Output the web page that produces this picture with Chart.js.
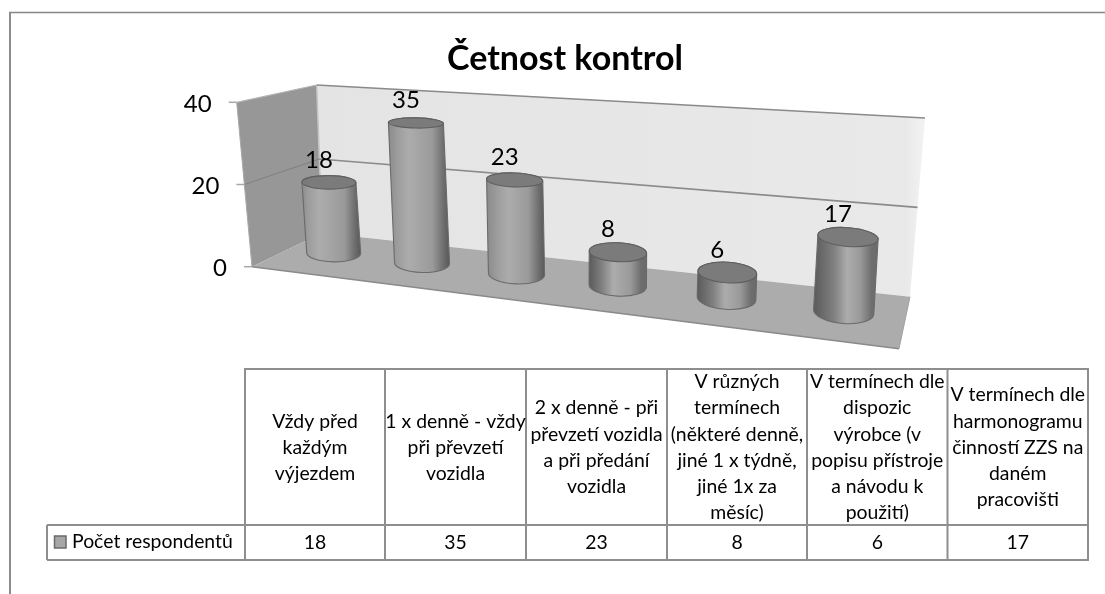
<!DOCTYPE html>
<html lang="cs">
<head>
<meta charset="utf-8">
<title>Četnost kontrol</title>
<style>html,body{margin:0;padding:0;background:#fff}canvas{display:block}</style>
<script src="https://cdn.jsdelivr.net/npm/chart.js@4"></script>
</head>
<body>
<canvas id="c" width="1105" height="594"></canvas>
<script>
const chartTitle = 'Četnost kontrol';
const seriesName = 'Počet respondentů';
const categories = [
  ['Vždy před', 'každým', 'výjezdem'],
  ['1 x denně - vždy', 'při převzetí', 'vozidla'],
  ['2 x denně - při', 'převzetí vozidla', 'a při předání', 'vozidla'],
  ['V různých', 'termínech', '(některé denně,', 'jiné 1 x týdně,', 'jiné 1x za', 'měsíc)'],
  ['V termínech dle', 'dispozic', 'výrobce (v', 'popisu přístroje', 'a návodu k', 'použití)'],
  ['V termínech dle', 'harmonogramu', 'činností ZZS na', 'daném', 'pracovišti']
];
const respondents = [18, 35, 23, 8, 6, 17];
const axisMax = 40;
const axisStep = 20;

const FONT = 'Lato, Carlito, Calibri, sans-serif';
const EDGE = '#8a8a8a';

// Perspective of the picture: where the first and last category stand at value 0 and at axisMax.
const plane = {a:[333.7,253], b:[323.1,96], c:[843.7,311.7], d:[853.8,136.1], r:0.838};
// Walls as screen quads.
const wall = {
  frontBottom:[252,266.7], frontTop:[236.7,102.3],
  backBottom:[322,233], backTop:[316.7,85],
  rightBottom:[910,296.7], rightTop:[925,118],
  floorFront:[899,348.7]
};
const table = {
  xs:[245,385,526,667,807,947.5,1088], legendX:47,
  top:369, mid:525, bottom:560
};

function lerp(p,q,s){return [p[0]+(q[0]-p[0])*s, p[1]+(q[1]-p[1])*s];}
function poly(ctx,pts,fill){ctx.beginPath();pts.forEach((p,i)=>i?ctx.lineTo(p[0],p[1]):ctx.moveTo(p[0],p[1]));ctx.closePath();ctx.fillStyle=fill;ctx.fill();}
function seg(ctx,p,q,color,w){ctx.beginPath();ctx.moveTo(p[0],p[1]);ctx.lineTo(q[0],q[1]);ctx.strokeStyle=color;ctx.lineWidth=w;ctx.stroke();}

function projector(chart){
  const x=chart.scales.x, y=chart.scales.y;
  const x0=x.getPixelForValue(0), x1=x.getPixelForValue(categories.length-1);
  const y0=y.getPixelForValue(0), y1=y.getPixelForValue(axisMax);
  return (px,py)=>{
    const t=(px-x0)/(x1-x0), s=(y0-py)/(y0-y1);
    const l=lerp(plane.a,plane.b,s), m=lerp(plane.c,plane.d,s);
    const w0=1-t, w1=t*plane.r, n=w0+w1;
    return [(w0*l[0]+w1*m[0])/n,(w0*l[1]+w1*m[1])/n];
  };
}

const scene = {
  id:'scene',
  beforeDatasetsDraw(chart){
    const ctx=chart.ctx, yS=chart.scales.y;
    ctx.save();
    const backGrad=ctx.createLinearGradient(wall.backBottom[0],0,wall.rightBottom[0]+14,0);
    backGrad.addColorStop(0,'#e4e4e4');backGrad.addColorStop(0.97,'#e9e9e9');backGrad.addColorStop(1,'#f2f2f2');
    poly(ctx,[wall.backTop,wall.rightTop,wall.rightBottom,wall.backBottom],backGrad);
    poly(ctx,[wall.frontTop,wall.backTop,wall.backBottom,wall.frontBottom],'#979797');
    seg(ctx,wall.backTop,[wall.backBottom[0],wall.backBottom[1]],'#c4c4c4',1.5);
    poly(ctx,[wall.frontBottom,wall.backBottom,wall.rightBottom,wall.floorFront],'#acacac');

    yS.ticks.forEach(tk=>{
      const s=tk.value/axisMax;
      const f=lerp(wall.frontBottom,wall.frontTop,s), b=lerp(wall.backBottom,wall.backTop,s), r=lerp(wall.rightBottom,wall.rightTop,s);
      if(s>0){
        seg(ctx,f,b,s===1?'#b4b4b4':'#828282',1.2);
        seg(ctx,b,r,EDGE,1.6);
      }
      seg(ctx,[f[0]-8,f[1]],f,'#a8a8a8',1.5);
      ctx.fillStyle='#000';ctx.font='24px '+FONT;ctx.textAlign='right';ctx.textBaseline='middle';
      ctx.fillText(String(tk.value),f[0]-25,f[1]+1.5);
    });
    seg(ctx,wall.frontBottom,wall.floorFront,EDGE,1.6);
    seg(ctx,wall.floorFront,wall.rightBottom,'#a0a0a0',1);
    seg(ctx,wall.frontBottom,wall.frontTop,'#a8a8a8',1);
    ctx.restore();
  },
  beforeDatasetDraw(chart,args){
    const ctx=chart.ctx, meta=args.meta, proj=projector(chart), yS=chart.scales.y;
    const yBase=yS.getPixelForValue(0);
    const unit=Math.abs(yS.getPixelForValue(1)-yBase);
    ctx.save();
    meta.data.forEach((bar,i)=>{
      const top=proj(bar.x,bar.y), base=proj(bar.x,yBase);
      const up=proj(bar.x,bar.y-unit);
      const localTop=Math.hypot(up[0]-top[0],up[1]-top[1]);
      const rx=(bar.width/2)*(localTop/unit);
      const f=(base[0]-plane.a[0])/(plane.c[0]-plane.a[0]);
      const ryTop=rx*(0.05+0.0011*top[1]), ryBase=rx*(0.05+0.0011*base[1]);
      const rot=0.01+0.07*f;
      const path=()=>{
        ctx.beginPath();
        ctx.ellipse(base[0],base[1],rx,ryBase,rot,0,Math.PI,false);
        ctx.ellipse(top[0],top[1],rx,ryTop,rot,Math.PI,2*Math.PI,false);
        ctx.closePath();
      };
      const lo=Math.min(top[0],base[0])-rx, hi=Math.max(top[0],base[0])+rx;
      const g=ctx.createLinearGradient(lo,0,hi,0);
      const peak=0.30+0.22*f;
      g.addColorStop(0,f<0.5?'#8a8a8a':'#5a5a5a');
      g.addColorStop(Math.max(peak-0.2,0.03),f<0.5?'#9c9c9c':'#808080');
      g.addColorStop(peak,'#acacac');
      g.addColorStop(0.72,'#9a9a9a');
      g.addColorStop(0.9,'#6e6e6e');
      g.addColorStop(1,f<0.5?'#585858':'#6a6a6a');
      path();ctx.fillStyle=g;ctx.fill();
      ctx.strokeStyle='#6a6a6a';ctx.lineWidth=1.1;ctx.stroke();
      ctx.beginPath();ctx.ellipse(top[0],top[1],rx,ryTop,rot,0,2*Math.PI);
      ctx.fillStyle='#7b7b7b';ctx.fill();
      ctx.strokeStyle='#5f5f5f';ctx.lineWidth=1.1;ctx.stroke();
      ctx.fillStyle='#000';ctx.font='24px '+FONT;ctx.textAlign='center';ctx.textBaseline='middle';
      ctx.fillText(String(respondents[i]),top[0]-10,top[1]-22.5);
    });
    ctx.restore();
    return false;
  },
  afterDraw(chart){
    const ctx=chart.ctx, T=table;
    ctx.save();
    seg(ctx,[9,12.5],[1105,12.5],'#868686',1.5);
    seg(ctx,[10,12],[10,594],'#8c8c8c',2);
    const c='#8e8e8e';
    seg(ctx,[T.xs[0],T.top],[T.xs[T.xs.length-1],T.top],c,2);
    seg(ctx,[T.legendX,T.mid],[T.xs[T.xs.length-1],T.mid],c,2);
    seg(ctx,[T.legendX,T.bottom],[T.xs[T.xs.length-1],T.bottom],c,2);
    seg(ctx,[T.legendX,T.mid],[T.legendX,T.bottom],c,2);
    T.xs.forEach(x=>seg(ctx,[x,T.top-1],[x,T.bottom+1],c,2));
    ctx.fillStyle='#000';ctx.textAlign='center';ctx.textBaseline='middle';
    const font='19.4px '+FONT; ctx.font=font;
    categories.forEach((lines,i)=>{
      const cx=(T.xs[i]+T.xs[i+1])/2, cy=(T.top+T.mid)/2+0.5, lh=26.2;
      lines.forEach((ln,k)=>ctx.fillText(ln,cx,cy+(k-(lines.length-1)/2)*lh));
      ctx.fillText(String(respondents[i]),cx,(T.mid+T.bottom)/2+0.5);
    });
    ctx.fillStyle='#a6a6a6';ctx.fillRect(54.5,536,11.5,12);
    ctx.strokeStyle='#6a6a6a';ctx.lineWidth=1.5;ctx.strokeRect(54.5,536,11.5,12);
    ctx.fillStyle='#000';ctx.textAlign='left';
    ctx.fillText(seriesName,72,(T.mid+T.bottom)/2-0.5);
    ctx.restore();
  }
};

new Chart(document.getElementById('c'),{
  type:'bar',
  data:{labels:categories,datasets:[{label:seriesName,data:respondents,backgroundColor:'#a6a6a6',barPercentage:0.55,categoryPercentage:1}]},
  plugins:[scene],
  options:{
    responsive:false,animation:false,
    layout:{padding:{left:265,right:240,top:0,bottom:334}},
    plugins:{
      legend:{display:false},tooltip:{enabled:false},
      title:{display:true,text:chartTitle,fullSize:false,color:'#000',font:{family:FONT,size:34,weight:'bold'},padding:{top:39,bottom:20}}
    },
    scales:{
      x:{display:false},
      y:{display:false,min:0,max:axisMax,ticks:{stepSize:axisStep}}
    }
  }
});
</script>
</body>
</html>
